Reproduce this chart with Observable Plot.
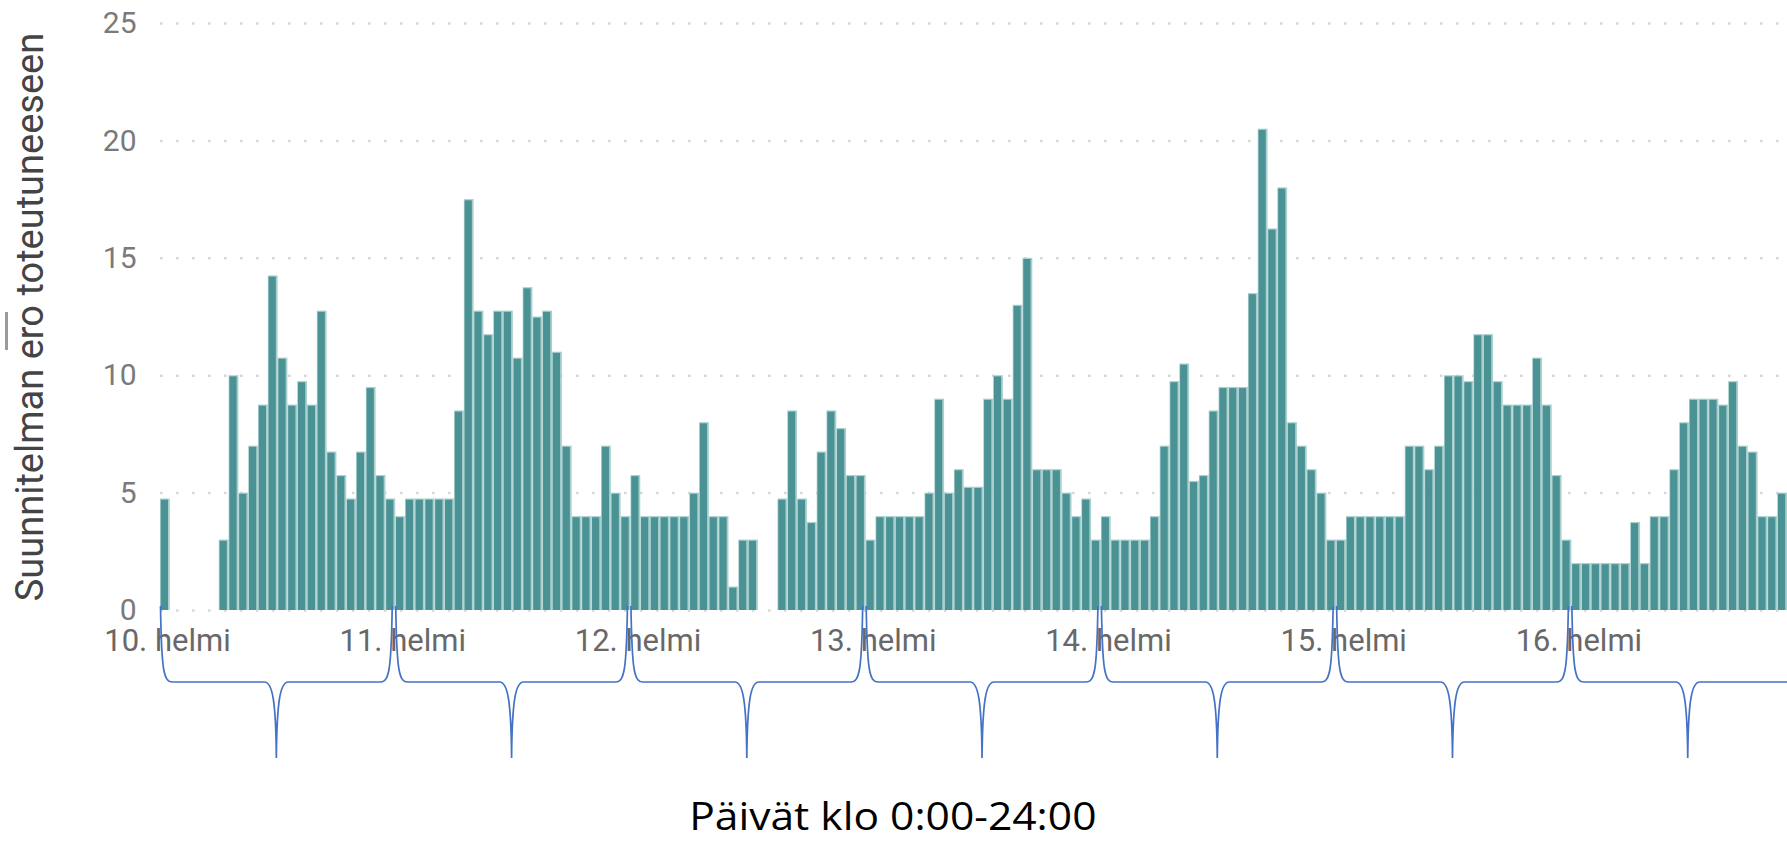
<!DOCTYPE html>
<html>
<head>
<meta charset="utf-8">
<script src="https://cdn.jsdelivr.net/npm/d3@7"></script>
<script src="https://cdn.jsdelivr.net/npm/@observablehq/plot@0.6"></script>
<style>
  html, body { margin: 0; padding: 0; background: #fff; }
  body { width: 1787px; height: 841px; overflow: hidden; position: relative; }
  #chart svg { display: block; overflow: hidden; }
  #xtitle {
    position: absolute; left: -1px; top: 796px; width: 1787px; text-align: center;
    font-family: "Open Sans", sans-serif; font-size: 38px; line-height: 38px; color: #000;
  }
  #xtitle span { display: inline-block; transform: scaleX(1.12); }
  #mark { position: absolute; left: 5px; top: 312px; width: 2.5px; height: 38px; background: #9a9a9a; }
</style>
</head>
<body>
<div id="chart"></div>
<div id="mark"></div>
<div id="xtitle"><span>Päivät klo 0:00-24:00</span></div>
<script>
// ---- data (hourly values, one array per day) ----
const dayLabels = ["10. helmi", "11. helmi", "12. helmi", "13. helmi", "14. helmi", "15. helmi", "16. helmi"];
const day10 = [4.75, null, null, null, null, null, 3, 10, 5, 7, 8.75, 14.25, 10.75, 8.75, 9.75, 8.75, 12.75, 6.75, 5.75, 4.75, 6.75, 9.5, 5.75, 4.75];
const day11 = [4, 4.75, 4.75, 4.75, 4.75, 4.75, 8.5, 17.5, 12.75, 11.75, 12.75, 12.75, 10.75, 13.75, 12.5, 12.75, 11, 7, 4, 4, 4, 7, 5, 4];
const day12 = [5.75, 4, 4, 4, 4, 4, 5, 8, 4, 4, 1, 3, 3, null, null, 4.75, 8.5, 4.75, 3.75, 6.75, 8.5, 7.75, 5.75, 5.75];
const day13 = [3, 4, 4, 4, 4, 4, 5, 9, 5, 6, 5.25, 5.25, 9, 10, 9, 13, 15, 6, 6, 6, 5, 4, 4.75, 3];
const day14 = [4, 3, 3, 3, 3, 4, 7, 9.75, 10.5, 5.5, 5.75, 8.5, 9.5, 9.5, 9.5, 13.5, 20.5, 16.25, 18, 8, 7, 6, 5, 3];
const day15 = [3, 4, 4, 4, 4, 4, 4, 7, 7, 6, 7, 10, 10, 9.75, 11.75, 11.75, 9.75, 8.75, 8.75, 8.75, 10.75, 8.75, 5.75, 3];
const day16 = [2, 2, 2, 2, 2, 2, 3.75, 2, 4, 4, 6, 8, 9, 9, 9, 8.75, 9.75, 7, 6.75, 4, 4, 5];
const yTicks = [0, 5, 10, 15, 20, 25];
const yLabel = "Suunnitelman ero toteutuneeseen";

const days = [day10, day11, day12, day13, day14, day15, day16];
const rows = days.flatMap((arr, d) => arr.map((v, h) => ({h: d * 24 + h, v})))
  .filter(r => r.v != null);
const hoursShown = days.reduce((s, a) => s + a.length, 0);
const dayStarts = dayLabels.map((_, d) => d * 24);

// curly braces under each day, placed through the x scale
function braces(index, scales, values, dims) {
  const g = d3.create("svg:g")
    .attr("fill", "none").attr("stroke", "#4472c4").attr("stroke-width", 1.7);
  const base = dims.height - dims.marginBottom;
  const top = base - 4, mid = base + 72, tip = base + 148;
  dayLabels.forEach((_, d) => {
    const x0 = scales.x(d * 24) + 0.5, x1 = scales.x(d * 24 + 24) - 3, xc = (x0 + x1) / 2;
    const p = `M${x0},${top} C${x0 + 1},${mid - 12} ${x0 + 3},${mid} ${x0 + 12},${mid}` +
      ` L${xc - 12},${mid} C${xc - 4},${mid} ${xc - 0.5},${mid + 18} ${xc},${tip}` +
      ` C${xc + 0.5},${mid + 18} ${xc + 4},${mid} ${xc + 12},${mid}` +
      ` L${x1 - 12},${mid} C${x1 - 3},${mid} ${x1 - 1},${mid - 12} ${x1},${top}`;
    g.append("path").attr("d", p);
  });
  return g.node();
}

const chart = Plot.plot({
  width: 1787,
  height: 780,
  marginLeft: 160,
  marginRight: 0,
  marginTop: 23,
  marginBottom: 170,
  style: {fontFamily: "Roboto, 'Liberation Sans', sans-serif", background: "#fff"},
  x: {type: "linear", domain: [0, hoursShown]},
  y: {domain: [0, 25]},
  marks: [
    Plot.ruleY(yTicks, {stroke: "#d6d6d6", strokeWidth: 2.5, strokeDasharray: "2.5 13.5"}),
    Plot.rectY(rows, {x1: "h", x2: d => d.h + 1, y: "v", fill: "#a9cfcf"}),
    Plot.rectY(rows, {x1: "h", x2: d => d.h + 1, y: "v", fill: "#4a9294", insetLeft: 0.8, insetRight: 1.8, insetTop: 1.2}),
    Plot.axisY({ticks: yTicks, tickSize: 0, tickPadding: 24, fontSize: 30, fill: "#7a7a7a", label: null}),
    Plot.axisX({ticks: dayStarts, tickFormat: d => dayLabels[d / 24], tickSize: 0, tickPadding: 18,
      fontSize: 31, fill: "#686868", dx: 7, label: null}),
    Plot.text([yLabel], {text: d => d, frameAnchor: "left", textAnchor: "middle", dx: -130, rotate: -90, fontSize: 38, fill: "#444"}),
    braces
  ]
});
document.getElementById("chart").appendChild(chart);
</script>
</body>
</html>
